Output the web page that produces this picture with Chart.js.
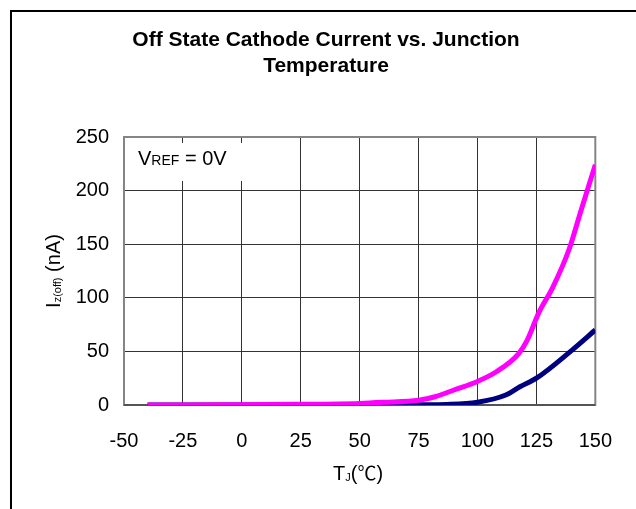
<!DOCTYPE html>
<html><head><meta charset="utf-8">
<script src="https://cdn.jsdelivr.net/npm/chart.js@4.4.0/dist/chart.umd.min.js"></script>
<style>html,body{margin:0;padding:0;background:#fff;overflow:hidden}#wrap{width:636px;height:509px;position:relative}</style>
</head><body><div id="wrap"><canvas id="c" width="636" height="509"></canvas></div>
<script>
const xTicks = [-50, -25, 0, 25, 50, 75, 100, 125, 150];
const yTicks = [0, 50, 100, 150, 200, 250];
const pinkTemps  = [-40, -25, 0, 25, 50, 60, 75, 82, 90, 100, 108, 117.5, 121, 126, 132, 139, 144, 150];
const pinkValues = [0, 0, 0.3, 0.6, 1.5, 2.5, 4.5, 7.7, 14, 22, 31, 48, 60, 86, 110, 146, 182, 224];
const navyTemps  = [-40, 0, 25, 50, 75, 87, 100, 112, 118, 125, 140, 150];
const navyValues = [0, 0, 0, 0, 0.2, 0.5, 2.5, 9.3, 17, 25, 51, 70];
const titleLines = ['Off State Cathode Current vs. Junction', 'Temperature'];
const FONT = '"Liberation Sans", Arial, sans-serif';

function pts(xs, ys) { return xs.map((x, i) => ({ x: x, y: ys[i] })); }

const deco = {
  id: 'deco',
  beforeDatasetsDraw(chart) {
    const ctx = chart.ctx, a = chart.chartArea;
    ctx.save();
    ctx.fillStyle = '#fff';
    ctx.fillRect(a.left + 2, 143, 128, 38);
    ctx.fillStyle = '#000';
    ctx.textBaseline = 'alphabetic';
    ctx.textAlign = 'left';
    let x = 138;
    ctx.font = '20px ' + FONT;
    ctx.fillText('V', x, 165); x += ctx.measureText('V').width;
    ctx.font = '14px ' + FONT;
    ctx.fillText('REF', x, 165); x += ctx.measureText('REF').width;
    ctx.font = '20px ' + FONT;
    ctx.fillText(' = 0V', x, 165);
    ctx.strokeStyle = '#858585';
    ctx.lineWidth = 2;
    ctx.strokeRect(a.left, a.top, a.right - a.left, a.bottom - a.top);
    ctx.strokeStyle = '#444';
    ctx.lineWidth = 1.5;
    ctx.beginPath(); ctx.moveTo(a.left, a.bottom); ctx.lineTo(a.right, a.bottom); ctx.stroke();
    ctx.restore();
  },
  afterDraw(chart) {
    const ctx = chart.ctx;
    ctx.save();
    ctx.fillStyle = '#000';
    ctx.font = 'bold 21px ' + FONT;
    ctx.textAlign = 'center';
    ctx.textBaseline = 'alphabetic';
    ctx.fillText(titleLines[0], 326, 46);
    ctx.fillText(titleLines[1], 326, 72);
    ctx.textAlign = 'left';
    let x = 333;
    ctx.font = '20px ' + FONT;
    ctx.fillText('T', x, 480); x += ctx.measureText('T').width;
    ctx.font = '11px ' + FONT;
    ctx.fillText('J', x, 481); x += ctx.measureText('J').width;
    ctx.font = '20px ' + FONT;
    ctx.fillText('(', x, 480); x += ctx.measureText('(').width;
    ctx.font = '19px "Noto Sans CJK JP", "DejaVu Sans", sans-serif';
    ctx.fillText('℃', x, 480); x += ctx.measureText('℃').width;
    ctx.font = '20px ' + FONT;
    ctx.fillText(')', x, 480);
    ctx.translate(60, 271);
    ctx.rotate(-Math.PI / 2);
    const parts = [['I', 20, 0], ['z(off)', 11, 1], [' (nA)', 20, 0]];
    let w = 0;
    parts.forEach(p => { ctx.font = p[1] + 'px ' + FONT; w += ctx.measureText(p[0]).width; });
    let px = -w / 2;
    parts.forEach(p => { ctx.font = p[1] + 'px ' + FONT; ctx.fillText(p[0], px, p[2]); px += ctx.measureText(p[0]).width; });
    ctx.restore();
    ctx.save();
    ctx.strokeStyle = '#000';
    ctx.lineWidth = 2;
    ctx.strokeRect(11, 11, 700, 600);
    ctx.restore();
  }
};

new Chart(document.getElementById('c'), {
  type: 'line',
  data: {
    datasets: [
      { data: pts(pinkTemps, pinkValues), borderColor: '#FF00FF', borderWidth: 5, pointRadius: 0, cubicInterpolationMode: 'monotone', fill: false },
      { data: pts(navyTemps, navyValues), borderColor: '#000080', borderWidth: 5, pointRadius: 0, cubicInterpolationMode: 'monotone', fill: false }
    ]
  },
  options: {
    responsive: false,
    animation: false,
    devicePixelRatio: 1,
    layout: { padding: { left: 0, right: 39, top: 137, bottom: 0 } },
    plugins: { legend: { display: false }, title: { display: false }, tooltip: { enabled: false } },
    scales: {
      x: {
        type: 'linear', min: -50, max: 150,
        afterBuildTicks: s => { s.ticks = xTicks.map(v => ({ value: v })); },
        afterFit: s => { s.height = 104; },
        grid: { color: '#333', lineWidth: 1, drawTicks: false },
        border: { display: false },
        ticks: { color: '#000', font: { family: FONT, size: 20 }, padding: 24, maxRotation: 0, autoSkip: false }
      },
      y: {
        min: 0, max: 250,
        afterBuildTicks: s => { s.ticks = yTicks.map(v => ({ value: v })); },
        afterFit: s => { s.width = 124; },
        grid: { color: '#333', lineWidth: 1, drawTicks: false },
        border: { display: false },
        ticks: { color: '#000', font: { family: FONT, size: 20 }, padding: 15, autoSkip: false }
      }
    }
  },
  plugins: [deco]
});
</script></body></html>
